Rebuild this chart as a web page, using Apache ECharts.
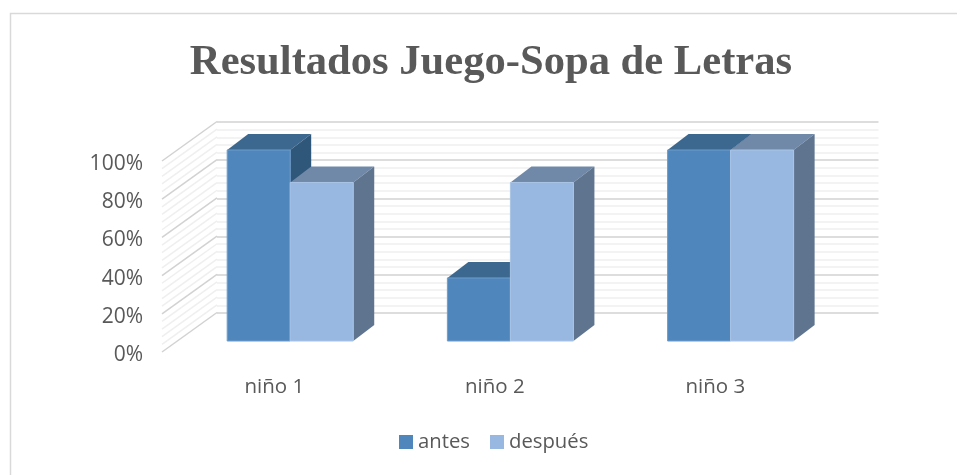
<!DOCTYPE html>
<html>
<head>
<meta charset="utf-8">
<style>html,body{margin:0;padding:0;background:#fff}#c{width:957px;height:475px}</style>
<script src="https://cdn.jsdelivr.net/npm/echarts@6/dist/echarts.min.js"></script>
</head>
<body>
<div id="c"></div>
<script>
const titleText = 'Resultados Juego-Sopa de Letras';
const categories = ['niño 1', 'niño 2', 'niño 3'];
const antes = [100, 33, 100];
const despues = [83, 83, 100];
const wallTicks = [0,4,8,12,16,20,24,28,32,36,40,44,48,52,56,60,64,68,72,76,80,84,88,92,96,100];

const chart = echarts.init(document.getElementById('c'), null, {renderer: 'canvas'});
const LABEL_FONT = '"Open Sans", sans-serif';
const TEXT = '#595959';

function shade(pts, fill) {
  return {type: 'polygon', shape: {points: pts}, style: {fill: fill}};
}
function barRenderer(slot, front, edge, top, side) {
  return function (params, api) {
    const i = api.value(0), v = api.value(1);
    const band = api.size([1, 0])[0];
    const w = band * 0.2862;
    const c = api.coord([i, v]);
    const b = api.coord([i, 0]);
    const x0 = c[0] + slot * w, x1 = x0 + w;
    const dx = 21, dy = -16;
    return {type: 'group', children: [
      shade([[x0, c[1]], [x0 + dx, c[1] + dy], [x1 + dx, c[1] + dy], [x1, c[1]]], top),
      shade([[x1, c[1]], [x1 + dx, c[1] + dy], [x1 + dx, b[1] + dy], [x1, b[1]]], side),
      {type: 'rect', shape: {x: x0, y: c[1], width: w, height: b[1] - c[1]},
       style: {fill: front, stroke: edge, lineWidth: 1}}
    ]};
  };
}
function wallRenderer(params, api) {
  const v = api.value(1);
  const p = api.coord([0, v]);
  const band = api.size([1, 0])[0];
  const major = v % 20 === 0;
  return {type: 'line',
    shape: {x1: p[0] - band / 2, y1: p[1], x2: p[0] - band / 2 + 55, y2: p[1] - 39.5},
    style: {stroke: major ? '#d2d2d2' : '#efefef', lineWidth: 1.5}};
}

const cats3 = {type: 'category', data: categories};
chart.setOption({
  animation: false,
  backgroundColor: '#ffffff',
  title: {
    text: titleText, left: 486, top: 36, textAlign: 'center',
    textStyle: {fontFamily: '"Liberation Serif", serif', fontWeight: 'bold', fontSize: 42.6, color: TEXT}
  },
  legend: {
    left: 399, top: 432, padding: 0, itemWidth: 14, itemHeight: 14, itemGap: 20, icon: 'rect',
    data: ['antes', 'después'],
    textStyle: {fontFamily: LABEL_FONT, fontSize: 20.3, color: TEXT}
  },
  graphic: [{
    type: 'polyline', silent: true, z: 0,
    shape: {points: [[10.5, 475], [10.5, 13.5], [957, 13.5]]},
    style: {stroke: '#d9d9d9', lineWidth: 1.5, fill: null}
  }],
  grid: [
    {left: 180.1, top: 150, width: 660.6, height: 191},
    {left: 217, top: 122, width: 661.5, height: 191},
    {left: 162, top: 161, width: 661.5, height: 191},
    {left: 164, top: 164, width: 661.5, height: 191}
  ],
  xAxis: [
    Object.assign({gridIndex: 0, show: false}, cats3),
    Object.assign({gridIndex: 1, show: false}, cats3),
    Object.assign({gridIndex: 2, show: false}, cats3),
    Object.assign({gridIndex: 3, axisLine: {show: false}, axisTick: {show: false},
      axisLabel: {margin: 22, fontFamily: LABEL_FONT, fontSize: 20.5, color: TEXT}}, cats3)
  ],
  yAxis: [
    {gridIndex: 0, type: 'value', min: 0, max: 100, show: false},
    {gridIndex: 1, type: 'value', min: 0, max: 100, interval: 20,
      axisLine: {show: false}, axisTick: {show: false}, axisLabel: {show: false},
      splitLine: {show: true, lineStyle: {color: '#d2d2d2', width: 1.5}},
      minorTick: {show: false, splitNumber: 5},
      minorSplitLine: {show: true, lineStyle: {color: '#efefef', width: 1.5}}},
    {gridIndex: 2, type: 'value', min: 0, max: 100, show: false},
    {gridIndex: 3, type: 'value', min: 0, max: 100, interval: 20,
      axisLine: {show: false}, axisTick: {show: false}, splitLine: {show: false},
      axisLabel: {margin: 21, fontFamily: LABEL_FONT, fontSize: 21, color: TEXT, formatter: '{value}%'}}
  ],
  series: [
    {name: 'paredes', type: 'custom', xAxisIndex: 2, yAxisIndex: 2, z: 1, silent: true,
      renderItem: wallRenderer, encode: {x: 0, y: 1},
      data: wallTicks.map(v => [0, v])},
    {name: 'antes', type: 'custom', xAxisIndex: 0, yAxisIndex: 0, z: 3,
      itemStyle: {color: '#4f87bd'},
      renderItem: barRenderer(-1, '#4f87bd', '#6f9ccb', '#3c6890', '#2f5779'),
      encode: {x: 0, y: 1}, data: antes.map((v, i) => [i, v])},
    {name: 'después', type: 'custom', xAxisIndex: 0, yAxisIndex: 0, z: 4,
      itemStyle: {color: '#98b8e1'},
      renderItem: barRenderer(0, '#98b8e1', '#a9c4e6', '#7089a9', '#5f748f'),
      encode: {x: 0, y: 1}, data: despues.map((v, i) => [i, v])}
  ]
});
</script>
</body>
</html>
